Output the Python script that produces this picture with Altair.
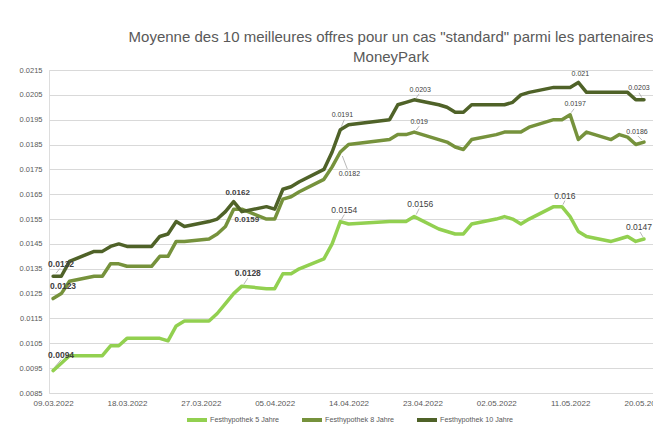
import altair as alt
import pandas as pd

# ---------------- data ----------------
dates = [
    "2022-03-09", "2022-03-10", "2022-03-11",
    "2022-03-14", "2022-03-15", "2022-03-16", "2022-03-17", "2022-03-18",
    "2022-03-21", "2022-03-22", "2022-03-23", "2022-03-24", "2022-03-25",
    "2022-03-28", "2022-03-29", "2022-03-30", "2022-03-31", "2022-04-01",
    "2022-04-04", "2022-04-05", "2022-04-06", "2022-04-07", "2022-04-08",
    "2022-04-11", "2022-04-12", "2022-04-13", "2022-04-14",
    "2022-04-19", "2022-04-20", "2022-04-21", "2022-04-22",
    "2022-04-25", "2022-04-26", "2022-04-27", "2022-04-28", "2022-04-29",
    "2022-05-02", "2022-05-03", "2022-05-04", "2022-05-05", "2022-05-06",
    "2022-05-09", "2022-05-10", "2022-05-11", "2022-05-12", "2022-05-13",
    "2022-05-16", "2022-05-17", "2022-05-18", "2022-05-19", "2022-05-20",
]

fest5 = [
    0.0094, 0.0097, 0.0100,
    0.0100, 0.0100, 0.0104, 0.0104, 0.0107,
    0.0107, 0.0107, 0.0106, 0.0112, 0.0114,
    0.0114, 0.0117, 0.0121, 0.0125, 0.0128,
    0.0127, 0.0127, 0.0133, 0.0133, 0.0135,
    0.0139, 0.0145, 0.0154, 0.0153,
    0.0154, 0.0154, 0.0154, 0.0156,
    0.0151, 0.0150, 0.0149, 0.0149, 0.0153,
    0.0155, 0.0156, 0.0155, 0.0153, 0.0155,
    0.0160, 0.0160, 0.0156, 0.0150, 0.0148,
    0.0146, 0.0147, 0.0148, 0.0146, 0.0147,
]

fest8 = [
    0.0123, 0.0125, 0.0130,
    0.0132, 0.0132, 0.0137, 0.0137, 0.0136,
    0.0136, 0.0140, 0.0140, 0.0146, 0.0146,
    0.0147, 0.0149, 0.0152, 0.0159, 0.0159,
    0.0155, 0.0155, 0.0163, 0.0164, 0.0166,
    0.0171, 0.0176, 0.0182, 0.0185,
    0.0187, 0.0189, 0.0189, 0.0190,
    0.0187, 0.0186, 0.0184, 0.0183, 0.0187,
    0.0189, 0.0190, 0.0190, 0.0190, 0.0192,
    0.0195, 0.0195, 0.0197, 0.0187, 0.0190,
    0.0187, 0.0189, 0.0188, 0.0185, 0.0186,
]

fest10 = [
    0.0132, 0.0132, 0.0138,
    0.0142, 0.0142, 0.0144, 0.0145, 0.0144,
    0.0144, 0.0148, 0.0149, 0.0154, 0.0152,
    0.0154, 0.0155, 0.0158, 0.0162, 0.0158,
    0.0160, 0.0159, 0.0167, 0.0168, 0.0170,
    0.0175, 0.0182, 0.0191, 0.0193,
    0.0195, 0.0201, 0.0202, 0.0203,
    0.0201, 0.0200, 0.0198, 0.0198, 0.0201,
    0.0201, 0.0201, 0.0202, 0.0205, 0.0206,
    0.0208, 0.0208, 0.0208, 0.0210, 0.0206,
    0.0206, 0.0206, 0.0206, 0.0203, 0.0203,
]

series_names = ["Festhypothek 5 Jahre", "Festhypothek 8 Jahre", "Festhypothek 10 Jahre"]
series_values = [fest5, fest8, fest10]
series_colors = ["#92d050", "#76923c", "#4f6228"]

# labelled points: (series index, date)
label_points = [
    (2, "2022-03-09"), (1, "2022-03-09"), (0, "2022-03-09"),
    (2, "2022-03-31"), (1, "2022-04-01"), (0, "2022-04-01"),
    (2, "2022-04-13"), (1, "2022-04-13"), (0, "2022-04-13"),
    (2, "2022-04-22"), (1, "2022-04-22"), (0, "2022-04-22"),
    (2, "2022-05-12"), (1, "2022-05-11"), (0, "2022-05-10"),
    (2, "2022-05-20"), (1, "2022-05-20"), (0, "2022-05-20"),
]

x_tick_dates = ["2022-03-09", "2022-03-18", "2022-03-27", "2022-04-05", "2022-04-14",
                "2022-04-23", "2022-05-02", "2022-05-11", "2022-05-20"]
y_ticks = [0.0085, 0.0095, 0.0105, 0.0115, 0.0125, 0.0135, 0.0145,
           0.0155, 0.0165, 0.0175, 0.0185, 0.0195, 0.0205, 0.0215]

title_lines = ['Moyenne des 10 meilleures offres pour un cas "standard" parmi les partenaires',
               "MoneyPark"]

# ---------------- styling of labels (offsets in px, size, weight, leader) ----------------
label_style = [
    dict(dx=8, dy=-12, size=8.5, bold=True, leader=(3, -3, 7, -8)),
    dict(dx=10, dy=-13, size=8.5, bold=True, leader=None),
    dict(dx=8, dy=-16, size=8.5, bold=True, leader=(2, -4, 8, -11)),
    dict(dx=4, dy=-9, size=8, bold=True, leader=None),
    dict(dx=5, dy=11, size=8, bold=True, leader=None),
    dict(dx=6, dy=-13, size=8.5, bold=True, leader=(2, -2, 6, -8)),
    dict(dx=2, dy=-15, size=7, bold=False, leader=(1, -3, 4, -10)),
    dict(dx=9, dy=22, size=7, bold=False, leader=(2, 4, 7, 17)),
    dict(dx=4, dy=-12, size=8.5, bold=False, leader=(1, -2, 4, -7)),
    dict(dx=6, dy=-10, size=7, bold=False, leader=(2, -2, 5, -6)),
    dict(dx=5, dy=-10, size=7, bold=False, leader=(2, -2, 5, -6)),
    dict(dx=6, dy=-13, size=8.5, bold=False, leader=(2, -2, 5, -8)),
    dict(dx=2, dy=-8, size=7, bold=False, leader=None),
    dict(dx=5, dy=-11, size=7, bold=False, leader=(1, -2, 4, -6)),
    dict(dx=3, dy=-11, size=8.5, bold=False, leader=(1, -2, 3, -6)),
    dict(dx=-5, dy=-12, size=7, bold=False, leader=(-2, -2, -5, -7)),
    dict(dx=-7, dy=-10, size=7, bold=False, leader=(-2, -2, -6, -6)),
    dict(dx=-5, dy=-12, size=8.5, bold=False, leader=(-1, -2, -4, -7)),
]

FONT = "Liberation Sans"
GRAY = "#595959"

# ---------------- tables ----------------
rows = []
for name, vals in zip(series_names, series_values):
    for d, v in zip(dates, vals):
        rows.append({"date": d, "series": name, "value": v})
df = pd.DataFrame(rows)

lab_rows = []
for i, (si, d) in enumerate(label_points):
    v = series_values[si][dates.index(d)]
    lab_rows.append({"id": i, "date": d, "series": series_names[si], "value": v,
                     "text": f"{v:g}"})
ldf = pd.DataFrame(lab_rows)

x_scale = alt.Scale(domain=[alt.DateTime(year=2022, month=3, date=8, hours=12),
                            alt.DateTime(year=2022, month=5, date=21, hours=2, minutes=24)])
y_scale = alt.Scale(domain=[0.0085, 0.0215], zero=False, nice=False)

x_axis = alt.Axis(values=[alt.DateTime(year=int(s[:4]), month=int(s[5:7]), date=int(s[8:10]))
                          for s in x_tick_dates],
                  format="%d.%m.%Y", title=None, grid=False, ticks=False, domain=False,
                  labelFont=FONT, labelFontSize=8, labelColor=GRAY, labelPadding=6,
                  labelFlush=False, labelOverlap=False, tickCount=30)
y_axis = alt.Axis(values=y_ticks, format=".4f", title=None, grid=True, gridColor="#d9d9d9",
                  ticks=False, domain=False, labelFont=FONT, labelFontSize=7.5,
                  labelColor=GRAY, labelPadding=7, labelOverlap=False, labelFlush=False,
                  tickCount=30)

color = alt.Color("series:N",
                  scale=alt.Scale(domain=series_names, range=series_colors),
                  legend=alt.Legend(title=None, orient="none", legendX=136, legendY=338,
                                    direction="horizontal", symbolType="stroke",
                                    symbolStrokeWidth=4, symbolSize=400,
                                    labelFont=FONT, labelFontSize=7.2, labelColor=GRAY,
                                    columnPadding=14, labelOffset=1))

base = alt.Chart(df)
lines = base.mark_line(strokeWidth=3.5, strokeJoin="round", strokeCap="round").encode(
    x=alt.X("date:T", scale=x_scale, axis=x_axis),
    y=alt.Y("value:Q", scale=y_scale, axis=y_axis),
    color=color,
    order=alt.Order("date:T"),
)

layers = [lines]
for i, st in enumerate(label_style):
    sub = alt.Chart(ldf).transform_filter(alt.datum.id == i)
    if st["leader"] is not None:
        x1, y1, x2, y2 = st["leader"]
        layers.append(sub.mark_rule(color="#a6a6a6", strokeWidth=0.8,
                                    xOffset=x1, yOffset=y1, x2Offset=x2, y2Offset=y2).encode(
            x=alt.X("date:T", scale=x_scale), y=alt.Y("value:Q", scale=y_scale),
            x2="date:T", y2="value:Q"))
    layers.append(sub.mark_text(font=FONT, fontSize=st["size"],
                                fontWeight="bold" if st["bold"] else "normal",
                                color="#404040", dx=st["dx"], dy=st["dy"],
                                align="center", baseline="middle").encode(
        x=alt.X("date:T", scale=x_scale), y=alt.Y("value:Q", scale=y_scale),
        text="text:N"))

chart = alt.layer(*layers).properties(
    width=604, height=323,
    title=alt.TitleParams(text=title_lines, font=FONT, fontSize=15, fontWeight="normal",
                          color=GRAY, anchor="middle", dx=40, offset=1, lineHeight=20),
    autosize=alt.AutoSizeParams(type="none"),
    padding={"left": 49, "top": 70, "right": 0, "bottom": 33},
).configure_view(stroke=None).configure(background="white")

chart.save("out.html", embed_options={"renderer": "svg", "actions": False})
